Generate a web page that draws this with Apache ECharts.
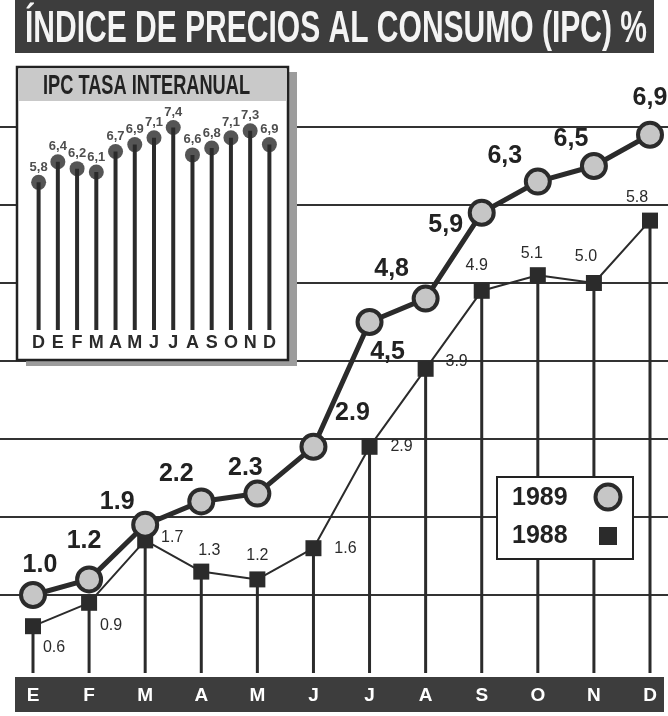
<!DOCTYPE html>
<html lang="es">

<head>
  <meta charset="UTF-8">
  <title>Índice de precios al consumo (IPC) %</title>
  <style>
    html, body {
      margin: 0;
      padding: 0;
      background-color: #fff;
    }

    #chart {
      width: 668px;
      height: 716px;
    }
  </style>
</head>

<body>
  <div id="chart"></div>
  <script src="https://cdn.jsdelivr.net/npm/echarts@6/dist/echarts.min.js"></script>
  <script>
    // datos del grafico principal
    const months = ['E', 'F', 'M', 'A', 'M', 'J', 'J', 'A', 'S', 'O', 'N', 'D']
    const ipc1989 = [1.0, 1.2, 1.9, 2.2, 2.3, 2.9, 4.5, 4.8, 5.9, 6.3, 6.5, 6.9]
    const ipc1988 = [0.6, 0.9, 1.7, 1.3, 1.2, 1.6, 2.9, 3.9, 4.9, 5.1, 5.0, 5.8]
    const labels1989 = ['1.0', '1.2', '1.9', '2.2', '2.3', '2.9', '4,5', '4,8', '5,9', '6,3', '6,5', '6,9']
    const labels1988 = ['0.6', '0.9', '1.7', '1.3', '1.2', '1.6', '2.9', '3.9', '4.9', '5.1', '5.0', '5.8']

    // recuadro: tasa interanual
    const insetMonths = ['D', 'E', 'F', 'M', 'A', 'M', 'J', 'J', 'A', 'S', 'O', 'N', 'D']
    const insetRate = [5.8, 6.4, 6.2, 6.1, 6.7, 6.9, 7.1, 7.4, 6.6, 6.8, 7.1, 7.3, 6.9]

    // donde va cada etiqueta respecto a su punto
    const offsets1989 = [[7, -30], [-5, -38], [-28, -23], [-25, -27], [-12, -25], [39, -34],
      [18, 30], [-34, -29], [-36, 12], [-33, -25], [-23, -27], [0, -37]]
    const offsets1988 = [[21, 21], [22, 23], [27, -3], [8, -21], [0, -24], [32, 0],
      [32, 0], [31, -7], [-5, -25], [-6, -22], [-8, -26], [-13, -23]]

    const ink = '#2b2b2b'
    const font = '"Liberation Sans", Arial, sans-serif'

    // ancho del texto condensado
    const fitScale = (text, css, width) => {
      const ctx = document.createElement('canvas').getContext('2d')
      ctx.font = css
      return width / ctx.measureText(text).width
    }

    const title = 'ÍNDICE DE PRECIOS AL CONSUMO (IPC) %'
    const insetTitle = 'IPC TASA INTERANUAL'
    const titleScale = fitScale(title, 'bold 45px ' + font, 622)
    const insetScale = fitScale(insetTitle, 'bold 28px ' + font, 207)

    const option = {
      animation: false,
      backgroundColor: '#fff',
      textStyle: { fontFamily: font },
      grid: [
        { left: 33, right: 18, top: 127, bottom: 43 },
        { left: 0, right: 0, top: 127, bottom: 121 },
        { left: 29, right: 389, top: 124, bottom: 386 }
      ],
      xAxis: [
        {
          gridIndex: 0,
          type: 'category',
          data: months,
          boundaryGap: false,
          z: 20,
          axisLine: { show: false },
          axisTick: { show: false },
          axisLabel: { color: '#fff', fontWeight: 'bold', fontSize: 19, margin: 13, interval: 0 }
        },
        { gridIndex: 1, type: 'value', show: false },
        {
          gridIndex: 2,
          type: 'category',
          data: insetMonths,
          z: 20,
          axisLine: { show: false },
          axisTick: { show: false },
          axisLabel: { color: ink, fontWeight: 'bold', fontSize: 18, margin: 4, interval: 0 }
        }
      ],
      yAxis: [
        { gridIndex: 0, type: 'value', min: 0, max: 7, show: false },
        {
          gridIndex: 1,
          type: 'value',
          min: 1,
          max: 7,
          interval: 1,
          axisLine: { show: false },
          axisTick: { show: false },
          axisLabel: { show: false },
          splitLine: { lineStyle: { color: '#333', width: 2 } }
        },
        { gridIndex: 2, type: 'value', min: 1.5, max: 7.5, show: false }
      ],
      series: [
        {
          type: 'bar',
          xAxisIndex: 0,
          yAxisIndex: 0,
          data: ipc1988,
          barWidth: 3,
          clip: false,
          silent: true,
          z: 2,
          itemStyle: { color: ink }
        },
        {
          name: '1988',
          type: 'line',
          xAxisIndex: 0,
          yAxisIndex: 0,
          data: ipc1988.map((v, i) => ({ value: v, label: { offset: offsets1988[i] } })),
          symbol: 'rect',
          symbolSize: 16,
          z: 3,
          lineStyle: { color: ink, width: 2 },
          itemStyle: { color: ink },
          label: {
            show: true,
            position: 'inside',
            fontSize: 16,
            color: ink,
            formatter: p => labels1988[p.dataIndex]
          }
        },
        {
          name: '1989',
          type: 'line',
          xAxisIndex: 0,
          yAxisIndex: 0,
          data: ipc1989.map((v, i) => ({ value: v, label: { offset: offsets1989[i] } })),
          symbol: 'circle',
          symbolSize: 24,
          z: 4,
          lineStyle: { color: ink, width: 5 },
          itemStyle: { color: '#c6c6c6', borderColor: ink, borderWidth: 4 },
          label: {
            show: true,
            position: 'inside',
            fontSize: 25,
            fontWeight: 'bold',
            color: '#222',
            formatter: p => labels1989[p.dataIndex]
          }
        },
        {
          type: 'bar',
          xAxisIndex: 2,
          yAxisIndex: 2,
          data: insetRate,
          barWidth: 4,
          silent: true,
          z: 6,
          itemStyle: { color: ink }
        },
        {
          type: 'scatter',
          xAxisIndex: 2,
          yAxisIndex: 2,
          data: insetRate,
          symbolSize: 15,
          z: 7,
          itemStyle: { color: ink },
          label: {
            show: true,
            position: 'top',
            distance: 1,
            fontSize: 13,
            fontWeight: 'bold',
            color: '#222',
            formatter: p => String(p.value).replace('.', ',')
          }
        }
      ],
      graphic: [
        // barra del titulo
        { type: 'rect', z: 10, shape: { x: 15, y: 0, width: 639, height: 53 }, style: { fill: '#3d3d3d' } },
        {
          type: 'text', z: 11, x: 25, y: 30, scaleX: titleScale,
          style: { text: title, fill: '#f4f4f4', font: 'bold 45px ' + font, textAlign: 'left', textVerticalAlign: 'middle', align: 'left', verticalAlign: 'middle' }
        },
        // recuadro con sombra
        { type: 'rect', z: 1, shape: { x: 26, y: 72, width: 271, height: 294 }, style: { fill: '#9c9c9c' } },
        { type: 'rect', z: 1, shape: { x: 17, y: 67, width: 271, height: 293 }, style: { fill: '#fff', stroke: '#222', lineWidth: 2.5 } },
        { type: 'rect', z: 1, shape: { x: 19, y: 69, width: 267, height: 32 }, style: { fill: '#c9c9c9' } },
        {
          type: 'text', z: 2, x: 43, y: 86, scaleX: insetScale,
          style: { text: insetTitle, fill: '#222', font: 'bold 28px ' + font, textAlign: 'left', textVerticalAlign: 'middle', align: 'left', verticalAlign: 'middle' }
        },
        // leyenda
        { type: 'rect', z: 10, shape: { x: 497, y: 477, width: 136, height: 82 }, style: { fill: '#fff', stroke: '#222', lineWidth: 2 } },
        {
          type: 'text', z: 11, x: 512, y: 498,
          style: { text: '1989', fill: '#222', font: 'bold 25px ' + font, textVerticalAlign: 'middle', verticalAlign: 'middle' }
        },
        {
          type: 'text', z: 11, x: 512, y: 536,
          style: { text: '1988', fill: '#222', font: 'bold 25px ' + font, textVerticalAlign: 'middle', verticalAlign: 'middle' }
        },
        { type: 'circle', z: 11, shape: { cx: 608, cy: 497, r: 12.5 }, style: { fill: '#c6c6c6', stroke: ink, lineWidth: 4 } },
        { type: 'rect', z: 11, shape: { x: 599, y: 527, width: 18, height: 18 }, style: { fill: ink } },
        // barra de meses
        { type: 'rect', z: 10, shape: { x: 15, y: 677, width: 649, height: 35 }, style: { fill: '#3d3d3d' } }
      ]
    }

    const myChart = echarts.init(document.getElementById('chart'))
    myChart.setOption(option)
  </script>
</body>

</html>
